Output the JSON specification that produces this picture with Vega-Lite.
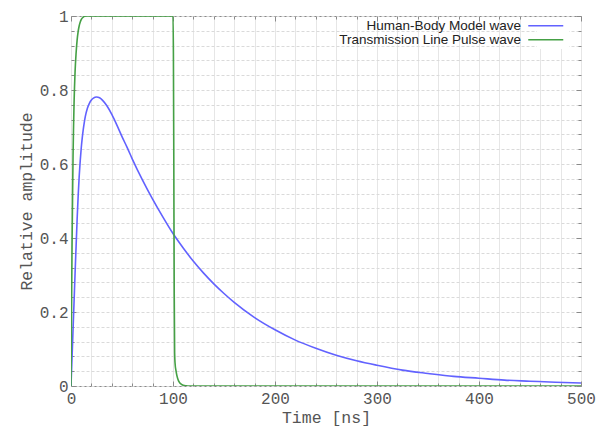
{
  "$schema": "https://vega.github.io/schema/vega-lite/v6.json",
  "width": 510,
  "height": 370,
  "autosize": {"type": "none"},
  "padding": {"left": 71, "top": 16, "right": 24, "bottom": 41},
  "background": "white",
  "config": {
    "view": {"stroke": "#8a8a8a", "strokeWidth": 1},
    "axis": {
      "labelFont": "Liberation Mono",
      "labelFontSize": 16,
      "labelColor": "#555555",
      "titleFont": "Liberation Mono",
      "titleFontSize": 16.5,
      "titleFontWeight": "normal",
      "titleColor": "#555555",
      "tickColor": "#8a8a8a",
      "tickWidth": 1,
      "domain": false,
      "labelFlush": false,
      "labelOverlap": false
    }
  },
  "data": {
    "values": [
      {"t": 0, "v": 0, "series": "Human-Body Model wave"},
      {"t": 1, "v": 0.075, "series": "Human-Body Model wave"},
      {"t": 2, "v": 0.152, "series": "Human-Body Model wave"},
      {"t": 3, "v": 0.228, "series": "Human-Body Model wave"},
      {"t": 4, "v": 0.305, "series": "Human-Body Model wave"},
      {"t": 5, "v": 0.378, "series": "Human-Body Model wave"},
      {"t": 6, "v": 0.45, "series": "Human-Body Model wave"},
      {"t": 7, "v": 0.512, "series": "Human-Body Model wave"},
      {"t": 8, "v": 0.565, "series": "Human-Body Model wave"},
      {"t": 9, "v": 0.607, "series": "Human-Body Model wave"},
      {"t": 10, "v": 0.642, "series": "Human-Body Model wave"},
      {"t": 11, "v": 0.67, "series": "Human-Body Model wave"},
      {"t": 12, "v": 0.693, "series": "Human-Body Model wave"},
      {"t": 13, "v": 0.712, "series": "Human-Body Model wave"},
      {"t": 14, "v": 0.728, "series": "Human-Body Model wave"},
      {"t": 16, "v": 0.75, "series": "Human-Body Model wave"},
      {"t": 18, "v": 0.764, "series": "Human-Body Model wave"},
      {"t": 20, "v": 0.773, "series": "Human-Body Model wave"},
      {"t": 22, "v": 0.778, "series": "Human-Body Model wave"},
      {"t": 25, "v": 0.781, "series": "Human-Body Model wave"},
      {"t": 28, "v": 0.779, "series": "Human-Body Model wave"},
      {"t": 31, "v": 0.772, "series": "Human-Body Model wave"},
      {"t": 35, "v": 0.758, "series": "Human-Body Model wave"},
      {"t": 40, "v": 0.734, "series": "Human-Body Model wave"},
      {"t": 45, "v": 0.705, "series": "Human-Body Model wave"},
      {"t": 50, "v": 0.674, "series": "Human-Body Model wave"},
      {"t": 55, "v": 0.645, "series": "Human-Body Model wave"},
      {"t": 60, "v": 0.614, "series": "Human-Body Model wave"},
      {"t": 70, "v": 0.557, "series": "Human-Body Model wave"},
      {"t": 80, "v": 0.505, "series": "Human-Body Model wave"},
      {"t": 90, "v": 0.457, "series": "Human-Body Model wave"},
      {"t": 100, "v": 0.412, "series": "Human-Body Model wave"},
      {"t": 110, "v": 0.373, "series": "Human-Body Model wave"},
      {"t": 120, "v": 0.337, "series": "Human-Body Model wave"},
      {"t": 130, "v": 0.305, "series": "Human-Body Model wave"},
      {"t": 140, "v": 0.276, "series": "Human-Body Model wave"},
      {"t": 150, "v": 0.25, "series": "Human-Body Model wave"},
      {"t": 160, "v": 0.226, "series": "Human-Body Model wave"},
      {"t": 180, "v": 0.185, "series": "Human-Body Model wave"},
      {"t": 200, "v": 0.152, "series": "Human-Body Model wave"},
      {"t": 220, "v": 0.124, "series": "Human-Body Model wave"},
      {"t": 240, "v": 0.102, "series": "Human-Body Model wave"},
      {"t": 260, "v": 0.083, "series": "Human-Body Model wave"},
      {"t": 280, "v": 0.068, "series": "Human-Body Model wave"},
      {"t": 300, "v": 0.056, "series": "Human-Body Model wave"},
      {"t": 325, "v": 0.043, "series": "Human-Body Model wave"},
      {"t": 350, "v": 0.034, "series": "Human-Body Model wave"},
      {"t": 375, "v": 0.026, "series": "Human-Body Model wave"},
      {"t": 400, "v": 0.021, "series": "Human-Body Model wave"},
      {"t": 425, "v": 0.016, "series": "Human-Body Model wave"},
      {"t": 450, "v": 0.013, "series": "Human-Body Model wave"},
      {"t": 475, "v": 0.01, "series": "Human-Body Model wave"},
      {"t": 500, "v": 0.008, "series": "Human-Body Model wave"},
      {"t": 0, "v": 0, "series": "Transmission Line Pulse wave"},
      {"t": 0.5, "v": 0.2, "series": "Transmission Line Pulse wave"},
      {"t": 1, "v": 0.37, "series": "Transmission Line Pulse wave"},
      {"t": 1.5, "v": 0.5, "series": "Transmission Line Pulse wave"},
      {"t": 2, "v": 0.62, "series": "Transmission Line Pulse wave"},
      {"t": 2.5, "v": 0.7, "series": "Transmission Line Pulse wave"},
      {"t": 3, "v": 0.765, "series": "Transmission Line Pulse wave"},
      {"t": 4, "v": 0.85, "series": "Transmission Line Pulse wave"},
      {"t": 5, "v": 0.9, "series": "Transmission Line Pulse wave"},
      {"t": 6, "v": 0.935, "series": "Transmission Line Pulse wave"},
      {"t": 7, "v": 0.958, "series": "Transmission Line Pulse wave"},
      {"t": 8, "v": 0.973, "series": "Transmission Line Pulse wave"},
      {"t": 9, "v": 0.983, "series": "Transmission Line Pulse wave"},
      {"t": 10, "v": 0.99, "series": "Transmission Line Pulse wave"},
      {"t": 12, "v": 0.997, "series": "Transmission Line Pulse wave"},
      {"t": 14, "v": 1, "series": "Transmission Line Pulse wave"},
      {"t": 100, "v": 1, "series": "Transmission Line Pulse wave"},
      {"t": 100.4, "v": 0.9, "series": "Transmission Line Pulse wave"},
      {"t": 100.8, "v": 0.6, "series": "Transmission Line Pulse wave"},
      {"t": 101.2, "v": 0.25, "series": "Transmission Line Pulse wave"},
      {"t": 101.6, "v": 0.09, "series": "Transmission Line Pulse wave"},
      {"t": 102, "v": 0.062, "series": "Transmission Line Pulse wave"},
      {"t": 103, "v": 0.04, "series": "Transmission Line Pulse wave"},
      {"t": 104, "v": 0.026, "series": "Transmission Line Pulse wave"},
      {"t": 105, "v": 0.017, "series": "Transmission Line Pulse wave"},
      {"t": 106, "v": 0.011, "series": "Transmission Line Pulse wave"},
      {"t": 108, "v": 0.005, "series": "Transmission Line Pulse wave"},
      {"t": 110, "v": 0.002, "series": "Transmission Line Pulse wave"},
      {"t": 113, "v": 0.0005, "series": "Transmission Line Pulse wave"},
      {"t": 116, "v": 0, "series": "Transmission Line Pulse wave"},
      {"t": 500, "v": 0, "series": "Transmission Line Pulse wave"}
    ]
  },
  "layer": [
    {
      "mark": {"type": "line", "strokeWidth": 1.6, "clip": true, "interpolate": "monotone"},
      "encoding": {
        "x": {
          "field": "t", "type": "quantitative",
          "scale": {"domain": [0, 500], "nice": false, "zero": false},
          "axis": {
            "orient": "bottom",
            "title": "Time [ns]",
            "values": [0,20,40,60,80,100,120,140,160,180,200,220,240,260,280,300,320,340,360,380,400,420,440,460,480,500],
            "labelExpr": "datum.value % 100 === 0 ? datum.label : ''",
            "tickSize": {"condition": {"test": "datum.value % 100 === 0", "value": -5}, "value": -3},
            "grid": true,
            "gridColor": "#e6e6e6",
            "gridWidth": 1,
            "labelPadding": 9,
            "titlePadding": 1
          }
        },
        "y": {
          "field": "v", "type": "quantitative",
          "scale": {"domain": [0, 1], "nice": false},
          "axis": {
            "orient": "left",
            "title": "Relative amplitude",
            "format": "~g",
            "values": [0,0.04,0.08,0.12,0.16,0.2,0.24,0.28,0.32,0.36,0.4,0.44,0.48,0.52,0.56,0.6,0.64,0.68,0.72,0.76,0.8,0.84,0.88,0.92,0.96,1],
            "labelExpr": "abs(datum.value*5 - round(datum.value*5)) < 0.001 ? datum.label : ''",
            "tickSize": {"condition": {"test": "abs(datum.value*5 - round(datum.value*5)) < 0.001", "value": -5}, "value": -3},
            "grid": true,
            "gridColor": "#dadada",
            "gridDash": [3, 2],
            "gridWidth": 1,
            "labelPadding": 8,
            "titlePadding": 5
          }
        },
        "color": {
          "field": "series", "type": "nominal",
          "scale": {
            "domain": ["Human-Body Model wave", "Transmission Line Pulse wave"],
            "range": ["#6262ff", "#45a045"]
          },
          "legend": {
            "title": null,
            "orient": "none",
            "legendX": 466,
            "legendY": 1,
            "symbolType": "M-3.5,0H3.5",
            "symbolSize": 100,
            "symbolStrokeWidth": 1.6,
            "labelAlign": "right",
            "labelOffset": -31.5,
            "labelFont": "Liberation Sans",
            "labelFontSize": 13.5,
            "labelColor": "#222222",
            "labelLimit": 400,
            "rowPadding": -5,
            "fillColor": "white",
            "padding": 2
          }
        }
      }
    },
    {
      "mark": {"type": "line", "opacity": 0},
      "encoding": {
        "x": {
          "field": "t", "type": "quantitative",
          "axis": {
            "orient": "top",
            "title": null,
            "labels": false,
            "grid": false,
            "values": [0,20,40,60,80,100,120,140,160,180,200,220,240,260,280,300,320,340,360,380,400,420,440,460,480,500],
            "tickSize": {"condition": {"test": "datum.value % 100 === 0", "value": -5}, "value": -3}
          }
        },
        "y": {
          "field": "v", "type": "quantitative",
          "axis": {
            "orient": "right",
            "title": null,
            "labels": false,
            "grid": false,
            "values": [0,0.04,0.08,0.12,0.16,0.2,0.24,0.28,0.32,0.36,0.4,0.44,0.48,0.52,0.56,0.6,0.64,0.68,0.72,0.76,0.8,0.84,0.88,0.92,0.96,1],
            "tickSize": {"condition": {"test": "abs(datum.value*5 - round(datum.value*5)) < 0.001", "value": -5}, "value": -3}
          }
        },
        "detail": {"field": "series", "type": "nominal"}
      }
    }
  ]
}
